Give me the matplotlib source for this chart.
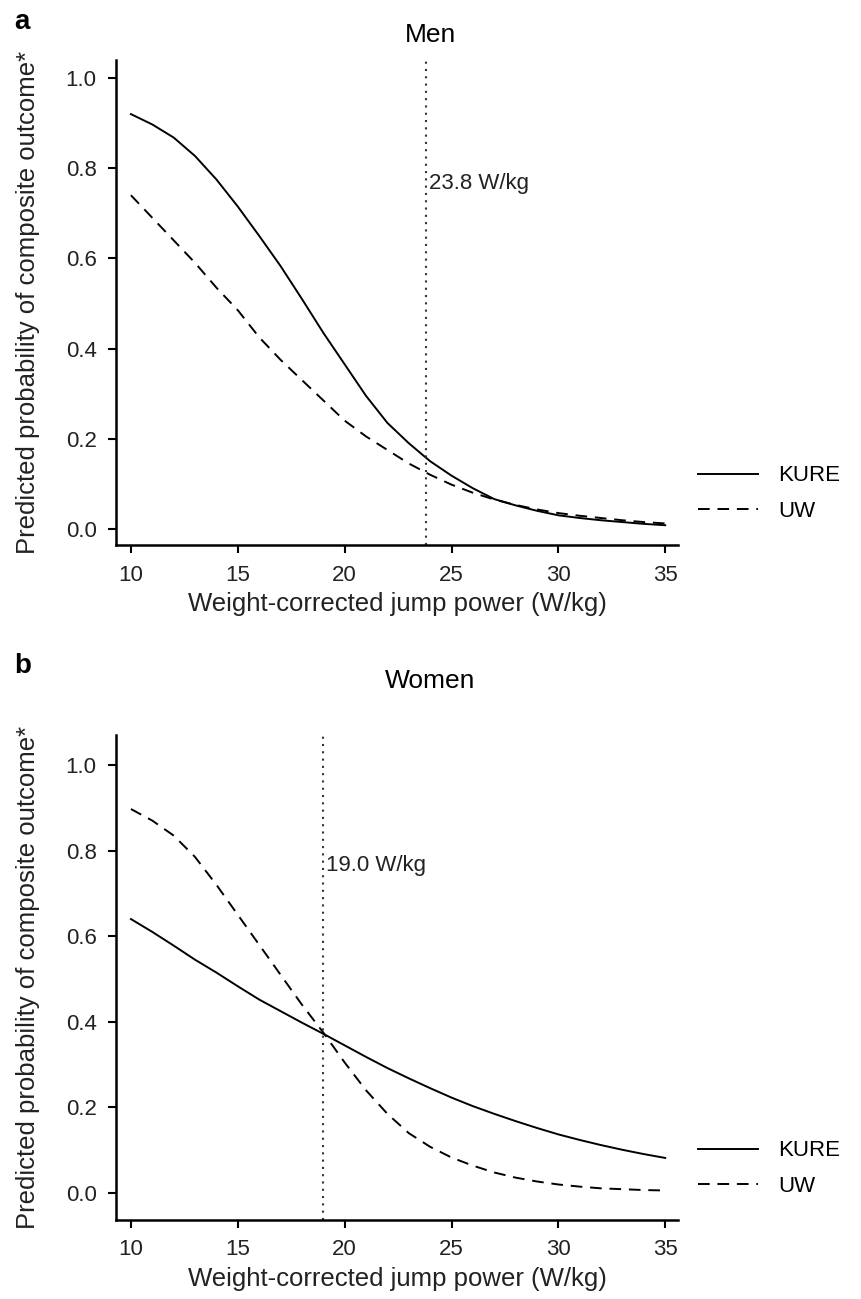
import matplotlib
matplotlib.use("Agg")
import matplotlib.pyplot as plt
import numpy as np

plt.rcParams['font.family'] = ['Liberation Sans', 'DejaVu Sans']

# jump power grid (W/kg)
power = list(range(10, 36))

# men, predicted probability
men_kure = [0.92, 0.897, 0.868, 0.827, 0.775, 0.715, 0.65, 0.583, 0.51, 0.435,
            0.365, 0.295, 0.235, 0.19, 0.15, 0.118, 0.09, 0.066, 0.052, 0.04,
            0.03, 0.024, 0.019, 0.015, 0.011, 0.008]
men_uw = [0.74, 0.69, 0.64, 0.59, 0.535, 0.485, 0.425, 0.375, 0.33, 0.285,
          0.24, 0.205, 0.175, 0.145, 0.12, 0.098, 0.08, 0.065, 0.053, 0.043,
          0.035, 0.029, 0.024, 0.019, 0.015, 0.012]

# women
women_kure = [0.64, 0.61, 0.578, 0.545, 0.515, 0.483, 0.452, 0.425, 0.398, 0.372,
              0.345, 0.318, 0.292, 0.268, 0.245, 0.223, 0.203, 0.185, 0.168, 0.152,
              0.137, 0.124, 0.112, 0.101, 0.091, 0.082]
women_uw = [0.897, 0.87, 0.835, 0.785, 0.72, 0.65, 0.58, 0.51, 0.44, 0.375,
            0.305, 0.24, 0.185, 0.14, 0.108, 0.083, 0.064, 0.048, 0.036, 0.027,
            0.02, 0.015, 0.011, 0.009, 0.007, 0.006]

cutoffs = [23.8, 19.0]
titles = ["Men", "Women"]
panel_tags = ["a", "b"]
xticks = [10, 15, 20, 25, 30, 35]
yticks = [0.0, 0.2, 0.4, 0.6, 0.8, 1.0]

fig = plt.figure(figsize=(8.61, 12.99), dpi=100)
ax_a = fig.add_axes([0.1347, 0.5804, 0.6528, 0.3734])
ax_b = fig.add_axes([0.1347, 0.0608, 0.6528, 0.3734])

panels = [(ax_a, men_kure, men_uw, (-0.036, 1.04)),
          (ax_b, women_kure, women_uw, (-0.063, 1.07))]

for i, (ax, kure, uw, ylim) in enumerate(panels):
    ax.plot(power, kure, color='black', lw=1.4, label='KURE')
    ax.plot(power, uw, color='black', lw=1.4, ls=(0, (6, 4)), label='UW')
    ax.axvline(cutoffs[i], color='#333333', lw=1.5, ls=(0, (1, 2.5)))
    ax.text(cutoffs[i] + 0.15, 0.765, f"{cutoffs[i]:.1f} W/kg", fontsize=16,
            va='center', ha='left', color='#222222')

    ax.set_xlim(9.3, 35.6)
    ax.set_ylim(*ylim)
    ax.set_xticks(xticks)
    ax.set_yticks(yticks)
    ax.set_yticklabels([f"{v:.1f}" for v in yticks])
    ax.spines['top'].set_visible(False)
    ax.spines['right'].set_visible(False)
    ax.spines['left'].set_linewidth(1.8)
    ax.spines['bottom'].set_linewidth(1.8)
    ax.tick_params(direction='out', length=6, width=1.5, labelsize=16, pad=8,
                   labelcolor='#222222')
    ax.set_xlabel("Weight-corrected jump power (W/kg)", fontsize=18.5,
                  labelpad=5, color='#222222')
    ax.set_ylabel("Predicted probability of composite outcome*", fontsize=18.5,
                  color='#222222')
    ax.yaxis.set_label_coords(-0.135, 0.5)

    ax.legend(loc='center left', bbox_to_anchor=(1.0, 0.106), frameon=False,
              fontsize=16, handlelength=2.7, handletextpad=0.9,
              labelspacing=0.65)

fig.text(0.5, 0.973, titles[0], fontsize=19, ha='center', va='center')
fig.text(0.5, 0.476, titles[1], fontsize=19, ha='center', va='center')
fig.text(0.017, 0.993, panel_tags[0], fontsize=20, fontweight='bold', va='top')
fig.text(0.017, 0.497, panel_tags[1], fontsize=20, fontweight='bold', va='top')

fig.savefig("out.png", dpi=100)
